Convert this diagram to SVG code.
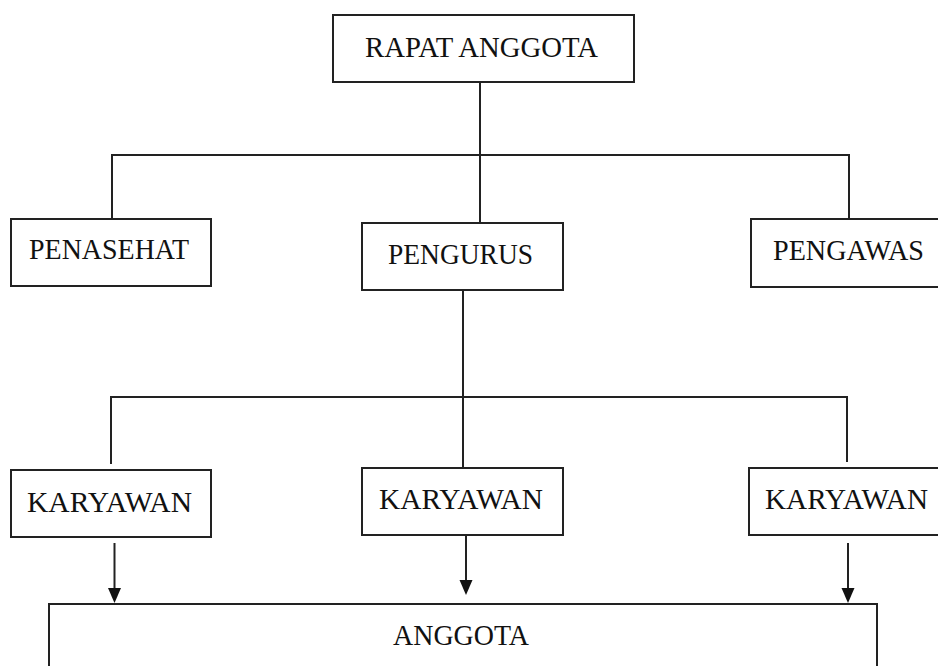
<svg xmlns="http://www.w3.org/2000/svg" width="938" height="666" viewBox="0 0 938 666">
<style>
.box{fill:#fff;stroke:#222;stroke-width:2}
.ln{fill:none;stroke:#222;stroke-width:2}
.t{font-family:"Liberation Serif","Times New Roman",serif;font-size:30px;fill:#111}
</style>
<rect width="938" height="666" fill="#fff"/>
<g id="connectors">
<path class="ln" d="M480,82 V223"/>
<path class="ln" d="M112,219 V155 H849 V219"/>
<path class="ln" d="M463,290 V468"/>
<path class="ln" d="M111,464 V397 H847 V462"/>
<line class="ln" x1="114.5" y1="543" x2="114.5" y2="592"/>
<line class="ln" x1="466" y1="535" x2="466" y2="584"/>
<line class="ln" x1="848" y1="543" x2="848" y2="592"/>
<g id="arrowheads" fill="#111">
<path d="M108,588 L121,588 L114.5,603 Z"/>
<path d="M459.5,580 L472.5,580 L466,595 Z"/>
<path d="M841.5,588 L854.5,588 L848,603 Z"/>
</g>
</g>
<g id="rapat-anggota">
<rect class="box" x="333" y="15" width="301" height="67"/>
<text class="t" x="365" y="57" textLength="233" lengthAdjust="spacingAndGlyphs">RAPAT ANGGOTA</text>
</g>
<g id="penasehat">
<rect class="box" x="11" y="219" width="200" height="67"/>
<text class="t" x="29" y="259" textLength="160" lengthAdjust="spacingAndGlyphs">PENASEHAT</text>
</g>
<g id="pengurus">
<rect class="box" x="362" y="223" width="201" height="67"/>
<text class="t" x="388" y="264" textLength="145" lengthAdjust="spacingAndGlyphs">PENGURUS</text>
</g>
<g id="pengawas">
<rect class="box" x="751" y="219" width="200" height="68"/>
<text class="t" x="773" y="260" textLength="151" lengthAdjust="spacingAndGlyphs">PENGAWAS</text>
</g>
<g id="karyawan-1">
<rect class="box" x="11" y="470" width="200" height="67"/>
<text class="t" x="27" y="512" textLength="165" lengthAdjust="spacingAndGlyphs">KARYAWAN</text>
</g>
<g id="karyawan-2">
<rect class="box" x="362" y="468" width="201" height="67"/>
<text class="t" x="379" y="509" textLength="164" lengthAdjust="spacingAndGlyphs">KARYAWAN</text>
</g>
<g id="karyawan-3">
<rect class="box" x="749" y="468" width="200" height="67"/>
<text class="t" x="765" y="509" textLength="163" lengthAdjust="spacingAndGlyphs">KARYAWAN</text>
</g>
<g id="anggota">
<rect class="box" x="49" y="604" width="828" height="80"/>
<text class="t" x="393" y="645" textLength="136" lengthAdjust="spacingAndGlyphs">ANGGOTA</text>
</g>
</svg>
